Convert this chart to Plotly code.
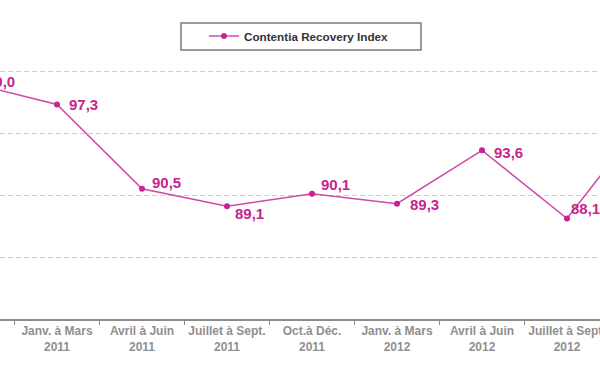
import plotly.graph_objects as go

categories = [
    "Oct. à Déc.<br>2010",
    "Janv. à Mars<br>2011",
    "Avril à Juin<br>2011",
    "Juillet à Sept.<br>2011",
    "Oct.à Déc.<br>2011",
    "Janv. à Mars<br>2012",
    "Avril à Juin<br>2012",
    "Juillet à Sept.<br>2012",
    "Oct. à Déc.<br>2012",
]
values = [99.0, 97.3, 90.5, 89.1, 90.1, 89.3, 93.6, 88.1, 96.9]
value_labels = ["99,0", "97,3", "90,5", "89,1", "90,1", "89,3", "93,6", "88,1", "96,9"]

# label offsets in pixels (style only)
label_xshift = [10, 10, 8, 6, 7, 11, 10, 2, 10]
label_yshift = [8, 0, 6, -7, 9, -1, -2, 10, 0]

series_name = "Contentia Recovery Index"
pink = "#C8238F"
line_pink = "#D048A8"
label_font = dict(family="Liberation Sans, Arial", size=15, color=pink, weight="bold")

fig = go.Figure()
fig.add_trace(go.Scatter(
    x=categories, y=values, name=series_name,
    mode="lines+markers",
    line=dict(color=line_pink, width=1.5),
    marker=dict(color=pink, size=6, symbol="circle"),
    hoverinfo="skip",
))

# the first point sits just left of the visible range: its label is a clipped text trace
fig.add_trace(go.Scatter(
    x=categories[:1], y=values[:1], mode="markers+text", showlegend=False,
    marker=dict(size=20.8, opacity=0), text=value_labels[:1],
    textposition="middle right", textfont=label_font, cliponaxis=True, hoverinfo="skip",
))

for cat, val, lab, xs, ys in zip(categories[1:], values[1:], value_labels[1:],
                                 label_xshift[1:], label_yshift[1:]):
    fig.add_annotation(x=cat, y=val, text=lab, showarrow=False,
                       xanchor="left", yanchor="middle", xshift=xs, yshift=ys,
                       font=label_font)

fig.add_shape(type="rect", xref="paper", yref="paper",
              x0=181/600, x1=421/600, y0=(319-50)/310, y1=(319-23)/310,
              line=dict(color="#7a7a7a", width=1.5), fillcolor="rgba(0,0,0,0)")

fig.update_layout(
    width=600, height=372,
    margin=dict(l=0, r=0, t=9, b=53, autoexpand=False),
    paper_bgcolor="white", plot_bgcolor="white",
    showlegend=True,
    legend=dict(x=204/600, y=(319-36)/310, xanchor="left", yanchor="middle",
                bgcolor="rgba(0,0,0,0)", borderwidth=0,
                font=dict(family="Liberation Sans, Arial", size=11.7, color="#333333", weight="bold")),
    xaxis=dict(
        type="category", range=[28/85, 28/85 + 600/85], automargin=False,
        tickson="boundaries", ticks="outside", ticklen=4, tickcolor="#8c8c8c", tickwidth=1,
        showline=True, linecolor="#8c8c8c", linewidth=1.5, tickangle=0,
        showgrid=False, zeroline=False,
        tickfont=dict(family="Liberation Sans, Arial", size=12, color="#8f8f8f", weight="bold"),
    ),
    yaxis=dict(
        range=[80, 105], dtick=5, showticklabels=False, ticks="", automargin=False,
        showgrid=True, gridcolor="#d0d0d0", gridwidth=1, griddash="5px,3px",
        zeroline=False, showline=False,
    ),
)

fig.write_html("out.html", config={"displayModeBar": False},
               post_script="document.body.style.margin='0';document.body.style.overflow='hidden';")
